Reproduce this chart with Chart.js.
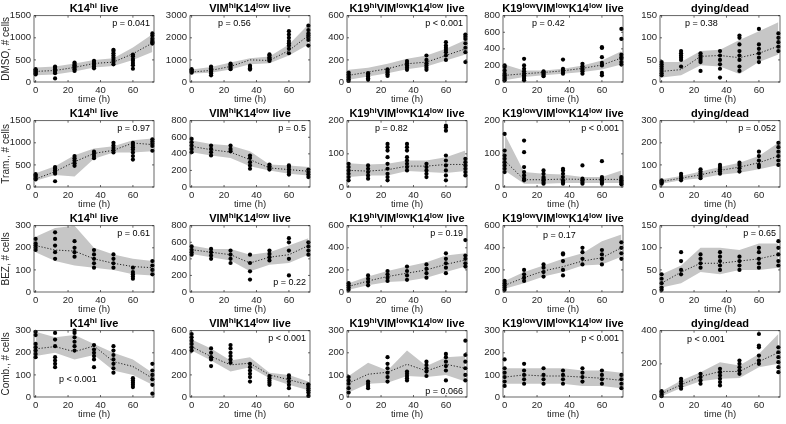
<!DOCTYPE html>
<html>
<head>
<meta charset="utf-8">
<script src="https://cdn.jsdelivr.net/npm/chart.js@4.4.1/dist/chart.umd.min.js"></script>
<style>
  body { margin: 0; background: #fff; width: 786px; height: 424px; position: relative; overflow: hidden;
         font-family: "Liberation Sans", Arial, sans-serif; }
  .cell { position: absolute; }
  .ttl { position: absolute; font-weight: bold; font-size: 11px; line-height: 12px; color: #000;
         white-space: nowrap; transform: translateX(-50%); }
  .ttl sup { font-size: 8px; line-height: 0; vertical-align: 4px; }
  .pv { position: absolute; font-size: 9px; line-height: 10px; color: #000; white-space: nowrap; }
</style>
</head>
<body>
<script>
// time points & labels
const times = [0, 12, 24, 36, 48, 60, 72];
const xTicks = [0, 20, 40, 60];
const rowNames = ["DMSO, # cells", "Tram., # cells", "BEZ, # cells", "Comb., # cells"];
const titles = [
  "K14<sup>hi</sup> live",
  "VIM<sup>hi</sup>K14<sup>low</sup> live",
  "K19<sup>hi</sup>VIM<sup>low</sup>K14<sup>low</sup> live",
  "K19<sup>low</sup>VIM<sup>low</sup>K14<sup>low</sup> live",
  "dying/dead"
];

// y axis max / step per row
const yMax  = [[1500, 3000, 600, 800, 150], [1500, 800, 200, 200, 300], [300, 800, 600, 600, 150], [300, 600, 300, 300, 400]];
const yStep = [[500, 1000, 200, 200, 50], [500, 200, 100, 100, 100], [100, 200, 200, 200, 50], [100, 200, 100, 100, 200]];

// p values
const pText = [
  ["p = 0.041", "p = 0.56", "p < 0.001", "p = 0.42", "p = 0.38"],
  ["p = 0.97", "p = 0.5", "p = 0.82", "p < 0.001", "p = 0.052"],
  ["p = 0.61", "p = 0.22", "p = 0.19", "p = 0.17", "p = 0.65"],
  ["p < 0.001", "p < 0.001", "p = 0.066", "p < 0.001", "p < 0.001"]
];

// DMSO
const dmsoMean = [
  [240, 260, 330, 420, 450, 640, 880],
  [450, 525, 705, 1000, 975, 1425, 2100],
  [60, 90, 120, 165, 180, 240, 300],
  [80, 100, 115, 135, 165, 205, 290],
  [24, 28, 58, 60, 55, 65, 81]
];
const dmsoLow = [
  [150, 170, 240, 330, 360, 500, 680],
  [380, 420, 560, 800, 850, 1200, 1700],
  [20, 50, 80, 115, 140, 195, 250],
  [20, 60, 80, 100, 120, 150, 210],
  [10, 15, 38, 35, 18, 45, 62]
];
const dmsoHigh = [
  [330, 350, 420, 500, 540, 780, 1080],
  [560, 680, 880, 1080, 1150, 1700, 2600],
  [110, 130, 165, 210, 240, 300, 380],
  [210, 140, 140, 160, 200, 260, 370],
  [45, 45, 70, 73, 95, 115, 135]
];
const dmsoPts = [
  [[170, 190, 210, 230, 250, 270, 290], [80, 200, 230, 260, 290, 320, 350], [250, 290, 320, 350, 380, 410, 440],
   [310, 350, 390, 420, 450, 480], [400, 450, 500, 550, 600, 650, 700, 730], [300, 380, 430, 480, 520, 580, 620], [870, 900, 930, 980, 1050, 1100]],
  [[420, 460, 500, 540, 580], [300, 400, 480, 560, 620, 700], [580, 650, 720, 780, 830], [560, 620, 680, 740],
   [950, 1000, 1060, 1120, 1200, 1250], [1300, 1500, 1650, 1750, 1850, 2000, 2150, 2300], [1650, 1900, 2000, 2100, 2200, 2350, 2550]],
  [[10, 25, 40, 55, 70, 85], [20, 35, 50, 65, 80], [55, 70, 85, 100, 115], [110, 130, 150, 170, 190],
   [110, 130, 150, 170, 200, 240], [200, 240, 270, 290, 310, 330, 360], [180, 270, 310, 350, 390, 410, 430]],
  [[20, 40, 60, 80, 100, 140, 180, 200], [20, 40, 60, 80, 100, 130, 160, 200, 280], [70, 85, 100, 115, 130], [100, 120, 140, 160, 270],
   [100, 130, 150, 170, 190, 220], [80, 110, 200, 230, 300, 410, 420], [210, 240, 280, 300, 330, 520, 640]],
  [[15, 20, 25, 30, 35, 40, 45], [35, 50, 55, 60, 65, 70], [25, 45, 50, 55, 60, 65], [10, 30, 40, 50, 60, 70],
   [25, 35, 50, 60, 70, 85, 100, 105], [45, 55, 65, 75, 85, 120], [70, 80, 90, 100, 110]]
];

// Trametinib
const tramMean = [
  [180, 350, 570, 760, 830, 995, 960],
  [490, 450, 420, 330, 230, 210, 190],
  [50, 48, 52, 63, 63, 68, 68],
  [80, 22, 22, 24, 23, 23, 23],
  [25, 40, 55, 75, 90, 110, 140]
];
const tramLow = [
  [140, 270, 240, 640, 780, 780, 810],
  [420, 380, 350, 250, 200, 160, 140],
  [30, 35, 35, 48, 45, 42, 48],
  [50, 10, 10, 12, 12, 12, 12],
  [15, 30, 40, 55, 65, 80, 100]
];
const tramHigh = [
  [310, 470, 720, 870, 920, 1060, 1100],
  [560, 520, 500, 430, 270, 260, 240],
  [72, 68, 70, 80, 80, 90, 110],
  [160, 45, 40, 38, 30, 30, 50],
  [35, 50, 70, 90, 110, 140, 200]
];
const tramPts = [
  [[170, 200, 230, 260, 290], [130, 300, 340, 380, 420, 450], [480, 540, 600, 650, 700], [650, 700, 750, 800],
   [780, 830, 880, 940, 1000], [620, 700, 780, 850, 900, 950, 1000], [820, 930, 980, 1030, 1080]],
  [[420, 460, 500, 540, 580], [380, 420, 460, 500], [430, 460, 500], [220, 260, 300, 350, 380],
   [210, 230, 250, 270], [150, 180, 210, 240, 260], [120, 150, 180, 210]],
  [[20, 30, 40, 50, 60, 70], [25, 35, 45, 55, 65], [20, 30, 40, 55, 70, 90, 110, 120, 130], [50, 60, 70, 80, 90, 110, 120, 130],
   [30, 40, 50, 60, 70], [20, 35, 50, 65, 80, 95, 170, 180, 185], [35, 45, 55, 65, 75, 85]],
  [[45, 55, 65, 75, 85, 95, 110, 160], [20, 25, 35, 45, 60, 105, 140], [10, 15, 20, 25, 30, 40, 50], [10, 15, 20, 30, 40, 50, 55],
   [10, 15, 20, 25, 65], [10, 15, 20, 25, 30, 78], [8, 12, 16, 20, 25, 30]],
  [[15, 20, 25, 30], [30, 40, 50, 60], [40, 50, 60, 70, 80], [60, 70, 80, 90, 100],
   [70, 85, 100, 110], [90, 100, 120, 140, 160], [100, 120, 140, 160, 180, 200]]
];

// BEZ
const bezMean = [
  [210, 190, 185, 150, 130, 115, 110],
  [510, 480, 450, 350, 420, 450, 560],
  [50, 100, 140, 170, 200, 250, 290],
  [60, 130, 190, 230, 280, 310, 400],
  [20, 45, 65, 65, 70, 75, 85]
];
const bezLow = [
  [180, 140, 120, 110, 100, 80, 75],
  [460, 420, 380, 250, 330, 350, 450],
  [20, 60, 90, 100, 130, 180, 230],
  [30, 80, 140, 180, 240, 250, 320],
  [10, 20, 45, 40, 50, 50, 55]
];
const bezHigh = [
  [250, 290, 300, 200, 170, 150, 140],
  [560, 520, 520, 450, 480, 560, 650],
  [80, 140, 190, 230, 270, 330, 350],
  [100, 180, 240, 300, 350, 460, 520],
  [40, 60, 100, 100, 95, 110, 110]
];
const bezPts = [
  [[190, 200, 210, 220, 240], [150, 180, 210, 240, 270], [160, 180, 200, 230], [110, 130, 150, 170, 190],
   [110, 130, 150, 170], [60, 70, 80, 90, 110], [80, 100, 120, 140]],
  [[450, 480, 510, 550], [400, 440, 480, 520], [350, 400, 450, 500], [150, 250, 350, 450],
   [380, 420, 460, 500], [200, 400, 500, 600, 650], [450, 500, 550, 600]],
  [[20, 40, 60, 80], [60, 90, 120, 150], [100, 130, 160, 190], [110, 150, 190, 230],
   [130, 170, 210, 250], [170, 220, 260, 300, 350], [230, 260, 300, 330, 470]],
  [[20, 40, 60, 80, 100], [100, 130, 160, 200], [140, 180, 220, 250], [150, 200, 280, 340, 350],
   [250, 300, 360, 400], [250, 300, 340, 380], [300, 350, 400, 450]],
  [[5, 10, 20, 30, 40], [40, 50, 70, 90], [55, 65, 75, 85], [50, 60, 70, 80, 90],
   [50, 60, 70, 80], [55, 65, 75, 90, 100], [60, 70, 85, 100, 115]]
];

// Combination
const combMean = [
  [218, 228, 205, 231, 160, 138, 85],
  [456, 366, 291, 306, 201, 156, 111],
  [63, 103, 112, 148, 118, 148, 130],
  [90, 100, 95, 95, 90, 85, 75],
  [20, 74, 124, 154, 154, 214, 268]
];
const combLow = [
  [185, 200, 170, 190, 120, 100, 55],
  [420, 330, 230, 270, 170, 110, 60],
  [20, 60, 65, 95, 90, 100, 70],
  [60, 60, 60, 60, 50, 50, 40],
  [5, 55, 95, 110, 115, 180, 200]
];
const combHigh = [
  [295, 270, 280, 240, 200, 170, 110],
  [520, 440, 330, 360, 220, 200, 140],
  [95, 155, 120, 210, 140, 180, 185],
  [130, 130, 130, 130, 120, 120, 110],
  [35, 100, 150, 210, 190, 260, 380]
];
const combPts = [
  [[180, 195, 210, 225, 240, 280, 295], [135, 150, 165, 180, 230, 260, 290], [210, 230, 250, 270, 290, 300], [135, 170, 185, 200, 215, 235],
   [110, 130, 150, 170, 190, 210, 230], [45, 55, 65, 75, 85], [15, 55, 80, 100, 120, 150]],
  [[420, 450, 480, 510, 540, 570], [280, 340, 360, 400, 440], [310, 340, 370, 400, 440, 470], [140, 180, 210, 240, 270, 300],
   [110, 130, 150, 170, 190], [80, 110, 140, 170, 195], [10, 40, 60, 80, 100, 115]],
  [[20, 40, 60, 75, 90], [40, 50, 60, 70], [70, 90, 110, 130, 150, 180], [75, 85, 95, 105, 115],
   [95, 115, 130, 145, 160], [75, 120, 140, 160, 180, 195], [75, 100, 130, 160, 190, 255]],
  [[50, 70, 90, 110, 130, 170], [60, 80, 100, 120, 150], [60, 80, 100, 130], [60, 80, 100, 120],
   [70, 90, 110, 130], [60, 80, 100, 120], [40, 60, 80, 100]],
  [[5, 15, 25, 35], [50, 65, 80, 95, 110], [80, 100, 120, 140], [70, 90, 110, 130, 150, 170],
   [140, 160, 180, 200, 220], [200, 220, 250, 300, 310, 380], [150, 180, 210, 240, 270, 300]]
];

const meanRows = [dmsoMean, tramMean, bezMean, combMean];
const lowRows = [dmsoLow, tramLow, bezLow, combLow];
const highRows = [dmsoHigh, tramHigh, bezHigh, combHigh];
const ptsRows = [dmsoPts, tramPts, bezPts, combPts];

// layout
const FONT = "'Liberation Sans', Arial, sans-serif";
const colX = [34, 190, 347, 503, 660];
const rowY = [15, 120, 225, 330];
const PW = 120, PH = 67, YW = 34, PADT = 8, PADR = 4, XH = 23;
// p-value placement: [anchor, dx, dy] relative to the plot box
const pPos = [
  [["r", 4, 8], ["l", 28, 8], ["r", 4, 8], ["l", 29, 8], ["l", 25, 8]],
  [["r", 4, 8], ["r", 4, 8], ["l", 28, 8], ["r", 4, 8], ["r", 4, 8]],
  [["r", 4, 8], ["r", 4, 57], ["r", 4, 8], ["l", 40, 10], ["r", 4, 8]],
  [["l", 25, 49], ["r", 4, 8], ["r", 4, 61], ["r", 4, 8], ["l", 27, 9]]
];

// box + inward ticks like the original figure
const framePlugin = {
  id: "frame",
  afterDatasetsDraw(chart) {
    const { ctx, chartArea: a, scales } = chart;
    ctx.save();
    ctx.strokeStyle = "#262626";
    ctx.lineWidth = 0.7;
    ctx.strokeRect(a.left, a.top, a.right - a.left, a.bottom - a.top);
    ctx.beginPath();
    scales.x.ticks.forEach(t => {
      const px = scales.x.getPixelForValue(t.value);
      ctx.moveTo(px, a.bottom); ctx.lineTo(px, a.bottom - 2);
      ctx.moveTo(px, a.top); ctx.lineTo(px, a.top + 2);
    });
    scales.y.ticks.forEach(t => {
      const py = scales.y.getPixelForValue(t.value);
      ctx.moveTo(a.left, py); ctx.lineTo(a.left + 2, py);
      ctx.moveTo(a.right, py); ctx.lineTo(a.right - 2, py);
    });
    ctx.stroke();
    ctx.restore();
  }
};

function xy(vals) {
  return times.map((t, i) => ({ x: t, y: vals[i] }));
}

function makePanel(r, c) {
  const box = document.createElement("div");
  box.className = "cell";
  const w = YW + PW + PADR, h = PADT + PH + XH;
  box.style.left = (colX[c] - YW) + "px";
  box.style.top = (rowY[r] - PADT) + "px";
  const cv = document.createElement("canvas");
  cv.width = w; cv.height = h;
  box.appendChild(cv);
  document.body.appendChild(box);

  const scatter = [];
  ptsRows[r][c].forEach((vals, i) => vals.forEach(v => scatter.push({ x: times[i], y: v })));

  const ticksY = [];
  for (let v = 0; v <= yMax[r][c]; v += yStep[r][c]) ticksY.push({ value: v });

  new Chart(cv, {
    type: "scatter",
    data: {
      datasets: [
        { data: xy(lowRows[r][c]), showLine: true, borderWidth: 0, pointRadius: 0, fill: false, order: 4 },
        { data: xy(highRows[r][c]), showLine: true, borderWidth: 0, pointRadius: 0, fill: "-1",
          backgroundColor: "#c6c6c6", order: 3 },
        { data: xy(meanRows[r][c]), showLine: true, borderColor: "#222", borderWidth: 1,
          borderDash: [1.2, 1.8], pointRadius: 0, fill: false, order: 2 },
        { data: scatter, pointRadius: 2.1, pointBackgroundColor: "#000", pointBorderWidth: 0,
          clip: 4, order: 1 }
      ]
    },
    options: {
      responsive: false,
      animation: false,
      layout: { padding: { top: PADT, right: PADR, left: 0, bottom: 0 } },
      plugins: { legend: { display: false }, tooltip: { enabled: false } },
      scales: {
        x: {
          type: "linear", min: -1, max: 73,
          afterBuildTicks: s => { s.ticks = xTicks.map(v => ({ value: v })); },
          afterFit: s => { s.height = XH; },
          grid: { display: false, drawTicks: false },
          border: { display: false },
          ticks: { padding: 3, color: "#262626", maxRotation: 0, autoSkip: false, font: { size: 9.5, family: FONT } },
          title: { display: true, text: "time (h)", padding: { top: 0, bottom: 0 }, color: "#262626",
                   font: { size: 9.5, family: FONT } }
        },
        y: {
          min: 0, max: yMax[r][c],
          afterBuildTicks: s => { s.ticks = ticksY; },
          afterFit: s => { s.width = YW; },
          grid: { display: false, drawTicks: false },
          border: { display: false },
          ticks: { padding: 3, color: "#262626", autoSkip: false, font: { size: 9.5, family: FONT },
                   callback: v => String(v) },
          title: { display: c === 0, text: rowNames[r], padding: { top: 0, bottom: 0 }, color: "#262626",
                   font: { size: 10, family: FONT } }
        }
      }
    },
    plugins: [framePlugin]
  });

  const t = document.createElement("div");
  t.className = "ttl";
  t.innerHTML = titles[c];
  t.style.left = (colX[c] + PW / 2) + "px";
  t.style.top = (rowY[r] - 13) + "px";
  document.body.appendChild(t);

  const p = document.createElement("div");
  p.className = "pv";
  p.textContent = pText[r][c];
  const [anchor, dx, dy] = pPos[r][c];
  p.style.top = (rowY[r] + dy - 5) + "px";
  if (anchor === "r") {
    p.style.left = (colX[c] + PW - dx) + "px";
    p.style.transform = "translateX(-100%)";
  } else {
    p.style.left = (colX[c] + dx) + "px";
  }
  document.body.appendChild(p);
}

for (let r = 0; r < 4; r++) {
  for (let c = 0; c < 5; c++) makePanel(r, c);
}
</script>
</body>
</html>
